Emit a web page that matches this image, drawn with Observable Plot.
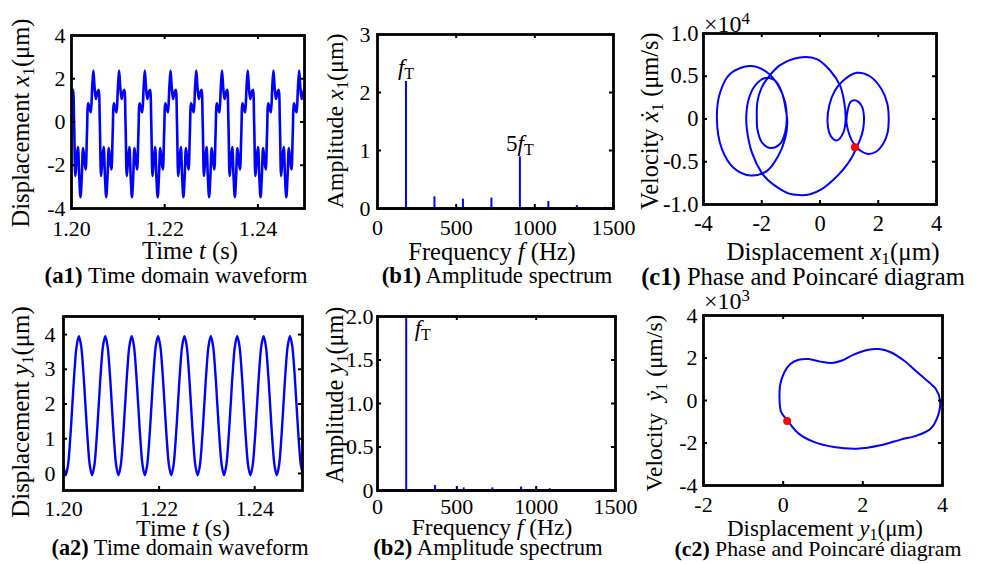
<!DOCTYPE html>
<html><head><meta charset="utf-8">
<script src="https://cdn.jsdelivr.net/npm/d3@7"></script>
<script src="https://cdn.jsdelivr.net/npm/@observablehq/plot@0.6"></script>
<style>
body{margin:0;background:#fff;}
#fig{position:relative;width:981px;height:564px;overflow:hidden;background:#fff;font-family:"Liberation Serif","Times New Roman",serif;color:#000;}
#fig svg{position:absolute;overflow:visible;}
.lbl{position:absolute;white-space:nowrap;line-height:1;transform:translate(-50%,-50%);}
.rot{transform:translate(-50%,-50%) rotate(-90deg);}
.lft{transform:translate(0,-50%);}
sub{font-size:0.7em;vertical-align:-0.28em;line-height:0;}
sup{font-size:0.7em;vertical-align:0.5em;line-height:0;}
</style></head><body><div id="fig"></div>
<script>
// ---------------- data ----------------
// (a1) displacement x1 (um), sampled from t = 1.20 s every a1_dt seconds
const a1_t0 = 1.2, a1_dt = 0.000276;
const a1_x1 = [
1.35,1.49,0.0,-2.5,-1.7,-1.16,-2.5,-3.48,-2.5,-1.2,-1.75,-2.2,-0.6,0.87,0.65,0.45,1.5,2.38,1.55,1.07,
1.35,1.49,0.0,-2.5,-1.7,-1.16,-2.5,-3.48,-2.5,-1.2,-1.75,-2.2,-0.6,0.87,0.65,0.45,1.5,2.38,1.55,1.07,
1.35,1.49,0.0,-2.5,-1.7,-1.16,-2.5,-3.48,-2.5,-1.2,-1.75,-2.2,-0.6,0.87,0.65,0.45,1.5,2.38,1.55,1.07,
1.35,1.49,0.0,-2.5,-1.7,-1.16,-2.5,-3.48,-2.5,-1.2,-1.75,-2.2,-0.6,0.87,0.65,0.45,1.5,2.38,1.55,1.07,
1.35,1.49,0.0,-2.5,-1.7,-1.16,-2.5,-3.48,-2.5,-1.2,-1.75,-2.2,-0.6,0.87,0.65,0.45,1.5,2.38,1.55,1.07,
1.35,1.49,0.0,-2.5,-1.7,-1.16,-2.5,-3.48,-2.5,-1.2,-1.75,-2.2,-0.6,0.87,0.65,0.45,1.5,2.38,1.55,1.07,
1.35,1.49,0.0,-2.5,-1.7,-1.16,-2.5,-3.48,-2.5,-1.2,-1.75,-2.2,-0.6,0.87,0.65,0.45,1.5,2.38,1.55,1.07,
1.35,1.49,0.0,-2.5,-1.7,-1.16,-2.5,-3.48,-2.5,-1.2,-1.75,-2.2,-0.6,0.87,0.65,0.45,1.5,2.38,1.55,1.07,
1.35,1.49,0.0,-2.5,-1.7,-1.16,-2.5,-3.48,-2.5,-1.2,-1.75,-2.2,-0.6,0.87,0.65,0.45,1.5,2.38,1.55,1.07,
1.35,1.49,0.0];
// (a2) displacement y1 (um), sampled from t = 1.20 s every a2_dt seconds
const a2_t0 = 1.2, a2_dt = 0.00046;
const a2_y1 = [
0.22,-0.05,0.22,0.95,1.95,2.95,3.68,3.95,3.68,2.95,1.95,0.95,
0.22,-0.05,0.22,0.95,1.95,2.95,3.68,3.95,3.68,2.95,1.95,0.95,
0.22,-0.05,0.22,0.95,1.95,2.95,3.68,3.95,3.68,2.95,1.95,0.95,
0.22,-0.05,0.22,0.95,1.95,2.95,3.68,3.95,3.68,2.95,1.95,0.95,
0.22,-0.05,0.22,0.95,1.95,2.95,3.68,3.95,3.68,2.95,1.95,0.95,
0.22,-0.05,0.22,0.95,1.95,2.95,3.68,3.95,3.68,2.95,1.95,0.95,
0.22,-0.05,0.22,0.95,1.95,2.95,3.68,3.95,3.68,2.95,1.95,0.95,
0.22,-0.05,0.22,0.95,1.95,2.95,3.68,3.95,3.68,2.95,1.95,0.95,
0.22,-0.05,0.22,0.95,1.95,2.95,3.68,3.95,3.68,2.95,1.95,0.95,
0.22,-0.05];
// (b1),(b2) amplitude spectra
const b1_freq = [181, 362, 543, 724, 905, 1086, 1267, 1448];
const b1_amp  = [2.19, 0.20, 0.16, 0.18, 0.89, 0.12, 0.05, 0.02];
const b1_peakLabels = [{f: 181, a: 2.19, pre: ""}, {f: 905, a: 0.89, pre: "5"}];
const b2_freq = [181, 362, 543, 724, 905, 1086];
const b2_amp  = [2.0, 0.057, 0.03, 0.03, 0.04, 0.02];
const b2_peakLabels = [{f: 285, a: 1.75, pre: ""}];
// (c1) phase trajectory: x1 (um), velocity (x1e4 um/s)
const c1_x = [2.36,2.32,2.17,1.94,1.66,1.43,1.26,1.09,0.97,0.91,0.95,1.05,1.18,1.32,1.45,1.51,1.48,1.39,1.26,1.09,0.80,0.46,0.06,-0.34,-0.71,-1.09,-1.46,-1.77,-2.00,-2.34,-2.51,-2.53,-2.45,-2.23,-1.88,-1.54,-1.31,-1.16,-1.12,-1.20,-1.43,-1.83,-2.40,-2.97,-3.37,-3.54,-3.43,-3.08,-2.40,-1.83,-1.43,-1.20,-1.14,-1.20,-1.37,-1.71,-2.00,-2.15,-2.17,-2.15,-2.00,-1.77,-1.37,-0.69,-0.11,0.34,0.69,0.83,0.88,0.80,0.59,0.37,0.26,0.32,0.51,0.80,1.26,1.71,2.11,2.31];
const c1_v = [0,-0.16,-0.29,-0.38,-0.41,-0.38,-0.33,-0.25,-0.14,-0.04,0.10,0.20,0.22,0.20,0.14,0.02,-0.12,-0.23,-0.33,-0.45,-0.59,-0.71,-0.82,-0.88,-0.89,-0.87,-0.80,-0.72,-0.63,-0.39,-0.12,0.04,0.23,0.39,0.48,0.45,0.31,0.08,-0.04,-0.23,-0.43,-0.61,-0.66,-0.57,-0.35,0.00,0.31,0.53,0.62,0.55,0.39,0.20,0.00,-0.16,-0.29,-0.34,-0.27,-0.12,0.00,0.20,0.37,0.49,0.63,0.72,0.70,0.57,0.39,0.20,0.00,-0.16,-0.25,-0.20,-0.04,0.16,0.33,0.45,0.54,0.50,0.35,0.18];
const c1_poincareX = [1.2], c1_poincareV = [-0.33];
// (c2) phase trajectory: y1 (um), velocity (x1e3 um/s)
const c2_x = [-0.09,-0.07,0.03,0.18,0.39,0.64,0.94,1.23,1.48,1.77,2.11,2.40,2.70,3.03,3.37,3.66,3.83,3.94,3.89,3.70,3.37,2.95,2.44,1.86,1.27,0.77,0.39,0.12,-0.05];
const c2_v = [0,0.78,1.33,1.72,1.92,1.95,1.83,1.77,1.88,2.16,2.38,2.42,2.27,1.88,1.33,0.86,0.55,0,-0.70,-1.33,-1.64,-1.84,-2.11,-2.27,-2.19,-1.95,-1.56,-0.97,-0.55];
const c2_poincareX = [0.1], c2_poincareV = [-0.97];
// tick values and labels
const timeTicks = [1.20, 1.22, 1.24], timeTickLabels = ["1.20", "1.22", "1.24"];
const freqTicks = [0, 500, 1000, 1500], freqTickLabels = ["0", "500", "1000", "1500"];
const a1_yTicks = [-4, -2, 0, 2, 4], a1_yTickLabels = ["-4", "-2", "0", "2", "4"];
const b1_yTicks = [0, 1, 2, 3], b1_yTickLabels = ["0", "1", "2", "3"];
const c1_xTicks = [-4, -2, 0, 2, 4], c1_xTickLabels = ["-4", "-2", "0", "2", "4"];
const c1_yTicks = [-1, -0.5, 0, 0.5, 1], c1_yTickLabels = ["-1.0", "-0.5", "0", "0.5", "1.0"];
const a2_yTicks = [0, 1, 2, 3, 4], a2_yTickLabels = ["0", "1", "2", "3", "4"];
const b2_yTicks = [0, 0.5, 1, 1.5, 2], b2_yTickLabels = ["0", "0.5", "1.0", "1.5", "2.0"];
const c2_xTicks = [-2, 0, 2, 4], c2_xTickLabels = ["-2", "0", "2", "4"];
const c2_yTicks = [-4, -2, 0, 2, 4], c2_yTickLabels = ["-4", "-2", "0", "2", "4"];

// ---------------- build ----------------
const fig = document.getElementById("fig");
const FONT = '"Liberation Serif","Times New Roman",serif';
const BLUE = "#0000ff";
const a1Data = a1_x1.map((v, i) => ({t: a1_t0 + i * a1_dt, v}));
const a2Data = a2_y1.map((v, i) => ({t: a2_t0 + i * a2_dt, v}));
const b1Data = b1_freq.map((f, i) => ({f, a: b1_amp[i]}));
const b2Data = b2_freq.map((f, i) => ({f, a: b2_amp[i]}));
const c1Data = c1_x.map((x, i) => ({x, v: c1_v[i]}));
const c2Data = c2_x.map((x, i) => ({x, v: c2_v[i]}));
const c1P = c1_poincareX.map((x, i) => ({x, v: c1_poincareV[i]}));
const c2P = c2_poincareX.map((x, i) => ({x, v: c2_poincareV[i]}));

function panel(frame, xs, ys, marks, pads, fs) {
  const mL = 60, mT = 20, mR = 35, mB = 45, TL = 4;
  const pw = frame[2] - frame[0], ph = frame[3] - frame[1];
  const xMap = new Map(xs.ticks.map((t, i) => [t, xs.labels[i]]));
  const yMap = new Map(ys.ticks.map((t, i) => [t, ys.labels[i]]));
  const tk = {stroke: "#000", strokeWidth: 2};
  const svg = Plot.plot({
    width: pw + mL + mR, height: ph + mT + mB,
    marginLeft: mL, marginTop: mT, marginRight: mR, marginBottom: mB,
    x: {domain: xs.domain}, y: {domain: ys.domain},
    style: {fontFamily: FONT, fontSize: (fs || 22) + "px", color: "#000", background: "transparent"},
    marks: [
      ...marks,
      Plot.tickX(xs.ticks, {x: d => d, insetTop: ph - TL, ...tk}),
      Plot.tickX(xs.ticks, {x: d => d, insetBottom: ph - TL, ...tk}),
      Plot.tickY(ys.ticks, {y: d => d, insetRight: pw - TL, ...tk}),
      Plot.tickY(ys.ticks, {y: d => d, insetLeft: pw - TL, ...tk}),
      Plot.frame({stroke: "#000", strokeWidth: 2.8}),
      Plot.axisX(xs.ticks, {tickSize: 0, tickPadding: pads[0], tickFormat: d => xMap.get(d), label: null}),
      Plot.axisY(ys.ticks, {tickSize: 0, tickPadding: pads[1], tickFormat: d => yMap.get(d), label: null})
    ]
  });
  svg.style.left = (frame[0] - mL) + "px";
  svg.style.top = (frame[1] - mT) + "px";
  for (const t of svg.querySelectorAll("text")) {
    const m = t.textContent.match(/^(\d*)fT$/);
    if (m) t.innerHTML = `${m[1]}<tspan font-style="italic">f</tspan><tspan font-size="16" dy="4">T</tspan>`;
  }
  fig.appendChild(svg);
}

// (a1)
panel([71, 35, 304, 208],
  {domain: [1.2, 1.25], ticks: timeTicks, labels: timeTickLabels},
  {domain: [-4, 4], ticks: a1_yTicks, labels: a1_yTickLabels},
  [Plot.line(a1Data, {x: "t", y: "v", stroke: BLUE, strokeWidth: 2.6, curve: "catmull-rom", clip: true})],
  [12, 6]);
// (b1)
panel([377, 34, 613, 208],
  {domain: [0, 1500], ticks: freqTicks, labels: freqTickLabels},
  {domain: [0, 3], ticks: b1_yTicks, labels: b1_yTickLabels},
  [Plot.ruleY([0], {stroke: BLUE, strokeWidth: 2.5}),
   Plot.ruleX(b1Data, {x: "f", y1: 0, y2: "a", stroke: BLUE, strokeWidth: 2}),
   Plot.text(b1_peakLabels, {x: "f", y: "a", text: d => d.pre + "fT", lineAnchor: "bottom", dy: -6, fontSize: 23})],
  [11, 7]);
// (c1)
panel([703, 33, 936, 204],
  {domain: [-4, 4], ticks: c1_xTicks, labels: c1_xTickLabels},
  {domain: [-1, 1], ticks: c1_yTicks, labels: c1_yTickLabels},
  [Plot.line(c1Data, {x: "x", y: "v", stroke: BLUE, strokeWidth: 2, curve: "catmull-rom-closed", clip: true}),
   Plot.dot(c1P, {x: "x", y: "v", fill: "#ff0000", r: 4})],
  [11, 5], 22.5);
// (a2)
panel([63, 316, 302, 490],
  {domain: [1.2, 1.25], ticks: timeTicks, labels: timeTickLabels},
  {domain: [-0.49, 4.52], ticks: a2_yTicks, labels: a2_yTickLabels},
  [Plot.line(a2Data, {x: "t", y: "v", stroke: BLUE, strokeWidth: 2.4, curve: "catmull-rom", clip: true})],
  [10, 8]);
// (b2)
panel([377, 316, 615, 490],
  {domain: [0, 1500], ticks: freqTicks, labels: freqTickLabels},
  {domain: [0, 2], ticks: b2_yTicks, labels: b2_yTickLabels},
  [Plot.ruleY([0], {stroke: BLUE, strokeWidth: 2.5}),
   Plot.ruleX(b2Data, {x: "f", y1: 0, y2: "a", stroke: BLUE, strokeWidth: 2, clip: true}),
   Plot.text(b2_peakLabels, {x: "f", y: "a", text: d => d.pre + "fT", lineAnchor: "bottom", dy: -2, fontSize: 23})],
  [8, 4]);
// (c2)
panel([703, 315, 942, 485],
  {domain: [-2, 4], ticks: c2_xTicks, labels: c2_xTickLabels},
  {domain: [-4, 4], ticks: c2_yTicks, labels: c2_yTickLabels},
  [Plot.line(c2Data, {x: "x", y: "v", stroke: BLUE, strokeWidth: 2, curve: "catmull-rom-closed", clip: true}),
   Plot.dot(c2P, {x: "x", y: "v", fill: "#ff0000", r: 4})],
  [11, 6]);

// ---------------- text ----------------
function label(html, cx, cy, size, cls) {
  const d = document.createElement("div");
  d.className = "lbl" + (cls ? " " + cls : "");
  d.style.left = cx + "px"; d.style.top = cy + "px"; d.style.fontSize = size + "px";
  d.innerHTML = html; fig.appendChild(d);
}
const um = "(\u03bcm)";
// row 1
label(`Displacement <i>x</i><sub>1</sub>${um}`, 21, 123, 24.5, "rot");
label(`Time <i>t</i> (s)`, 190, 251, 24.5);
label(`<b>(a1)</b> Time domain waveform`, 176, 276, 22.8);
label(`Amplitude <i>x</i><sub>1</sub>${um}`, 335, 121, 24, "rot");
label(`Frequency <i>f</i> (Hz)`, 492, 252, 24.5);
label(`<b>(b1)</b> Amplitude spectrum`, 497, 276, 22.8);
label(`\u00d710<sup>4</sup>`, 704, 24, 24, "lft");
label(`Velocity <i>\u1e8b</i><sub>1</sub> (\u03bcm/s)`, 650, 121, 24.4, "rot");
label(`Displacement <i>x</i><sub>1</sub>${um}`, 833, 251, 25);
label(`<b>(c1)</b> Phase and Poincar\u00e9 diagram`, 803, 277, 24.6);
// row 2
label(`Displacement <i>y</i><sub>1</sub>${um}`, 21, 412, 24.8, "rot");
label(`Time <i>t</i> (s)`, 183, 528, 24);
label(`<b>(a2)</b> Time domain waveform`, 180, 548, 22.3);
label(`Amplitude <i>y</i><sub>1</sub>${um}`, 335, 395, 24.2, "rot");
label(`Frequency <i>f</i> (Hz)`, 492, 528, 23.5);
label(`<b>(b2)</b> Amplitude spectrum`, 488, 548, 22.7);
label(`\u00d710<sup>3</sup>`, 704, 301, 24, "lft");
label(`Velocity&nbsp; <i>\u1e8f</i><sub>1</sub> (\u03bcm/s)`, 655, 403, 23.5, "rot");
label(`Displacement <i>y</i><sub>1</sub>${um}`, 825, 528, 23);
label(`<b>(c2)</b> Phase and Poincar\u00e9 diagram`, 818, 550, 21.8);
</script></body></html>
